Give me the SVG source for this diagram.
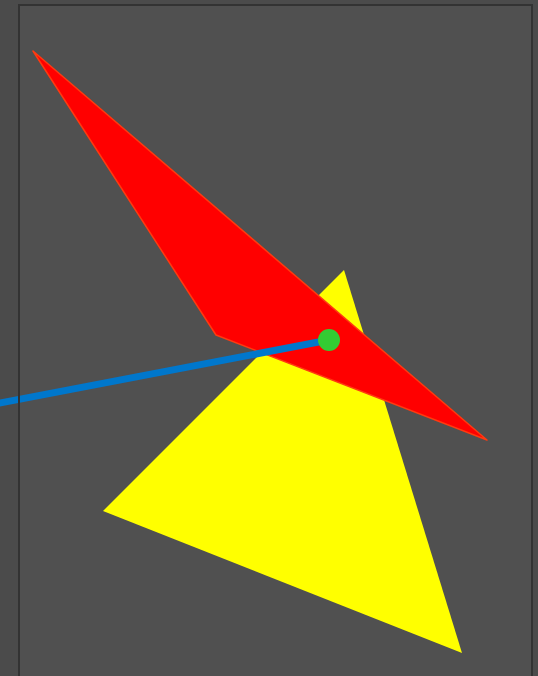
<svg xmlns="http://www.w3.org/2000/svg" width="538" height="676" viewBox="0 0 538 676">
<rect x="0" y="0" width="538" height="676" fill="#4b4b4b"/>
<rect x="19" y="5" width="513" height="680" fill="#505050"/>
<polygon id="yellow" points="344,270 103,511 462,653" fill="#ffff00"/>
<polygon id="red" points="33,51 216,335 487,440" fill="#ff0000" stroke="#ff3a10" stroke-width="1.5" stroke-linejoin="round"/>
<line id="blue" x1="-5" y1="404" x2="329" y2="340" stroke="#0077cc" stroke-width="7"/>
<circle id="green" cx="329" cy="340" r="11" fill="#33cc33"/>
<rect x="19" y="5" width="513" height="680" fill="none" stroke="#333333" stroke-width="2"/>
</svg>
